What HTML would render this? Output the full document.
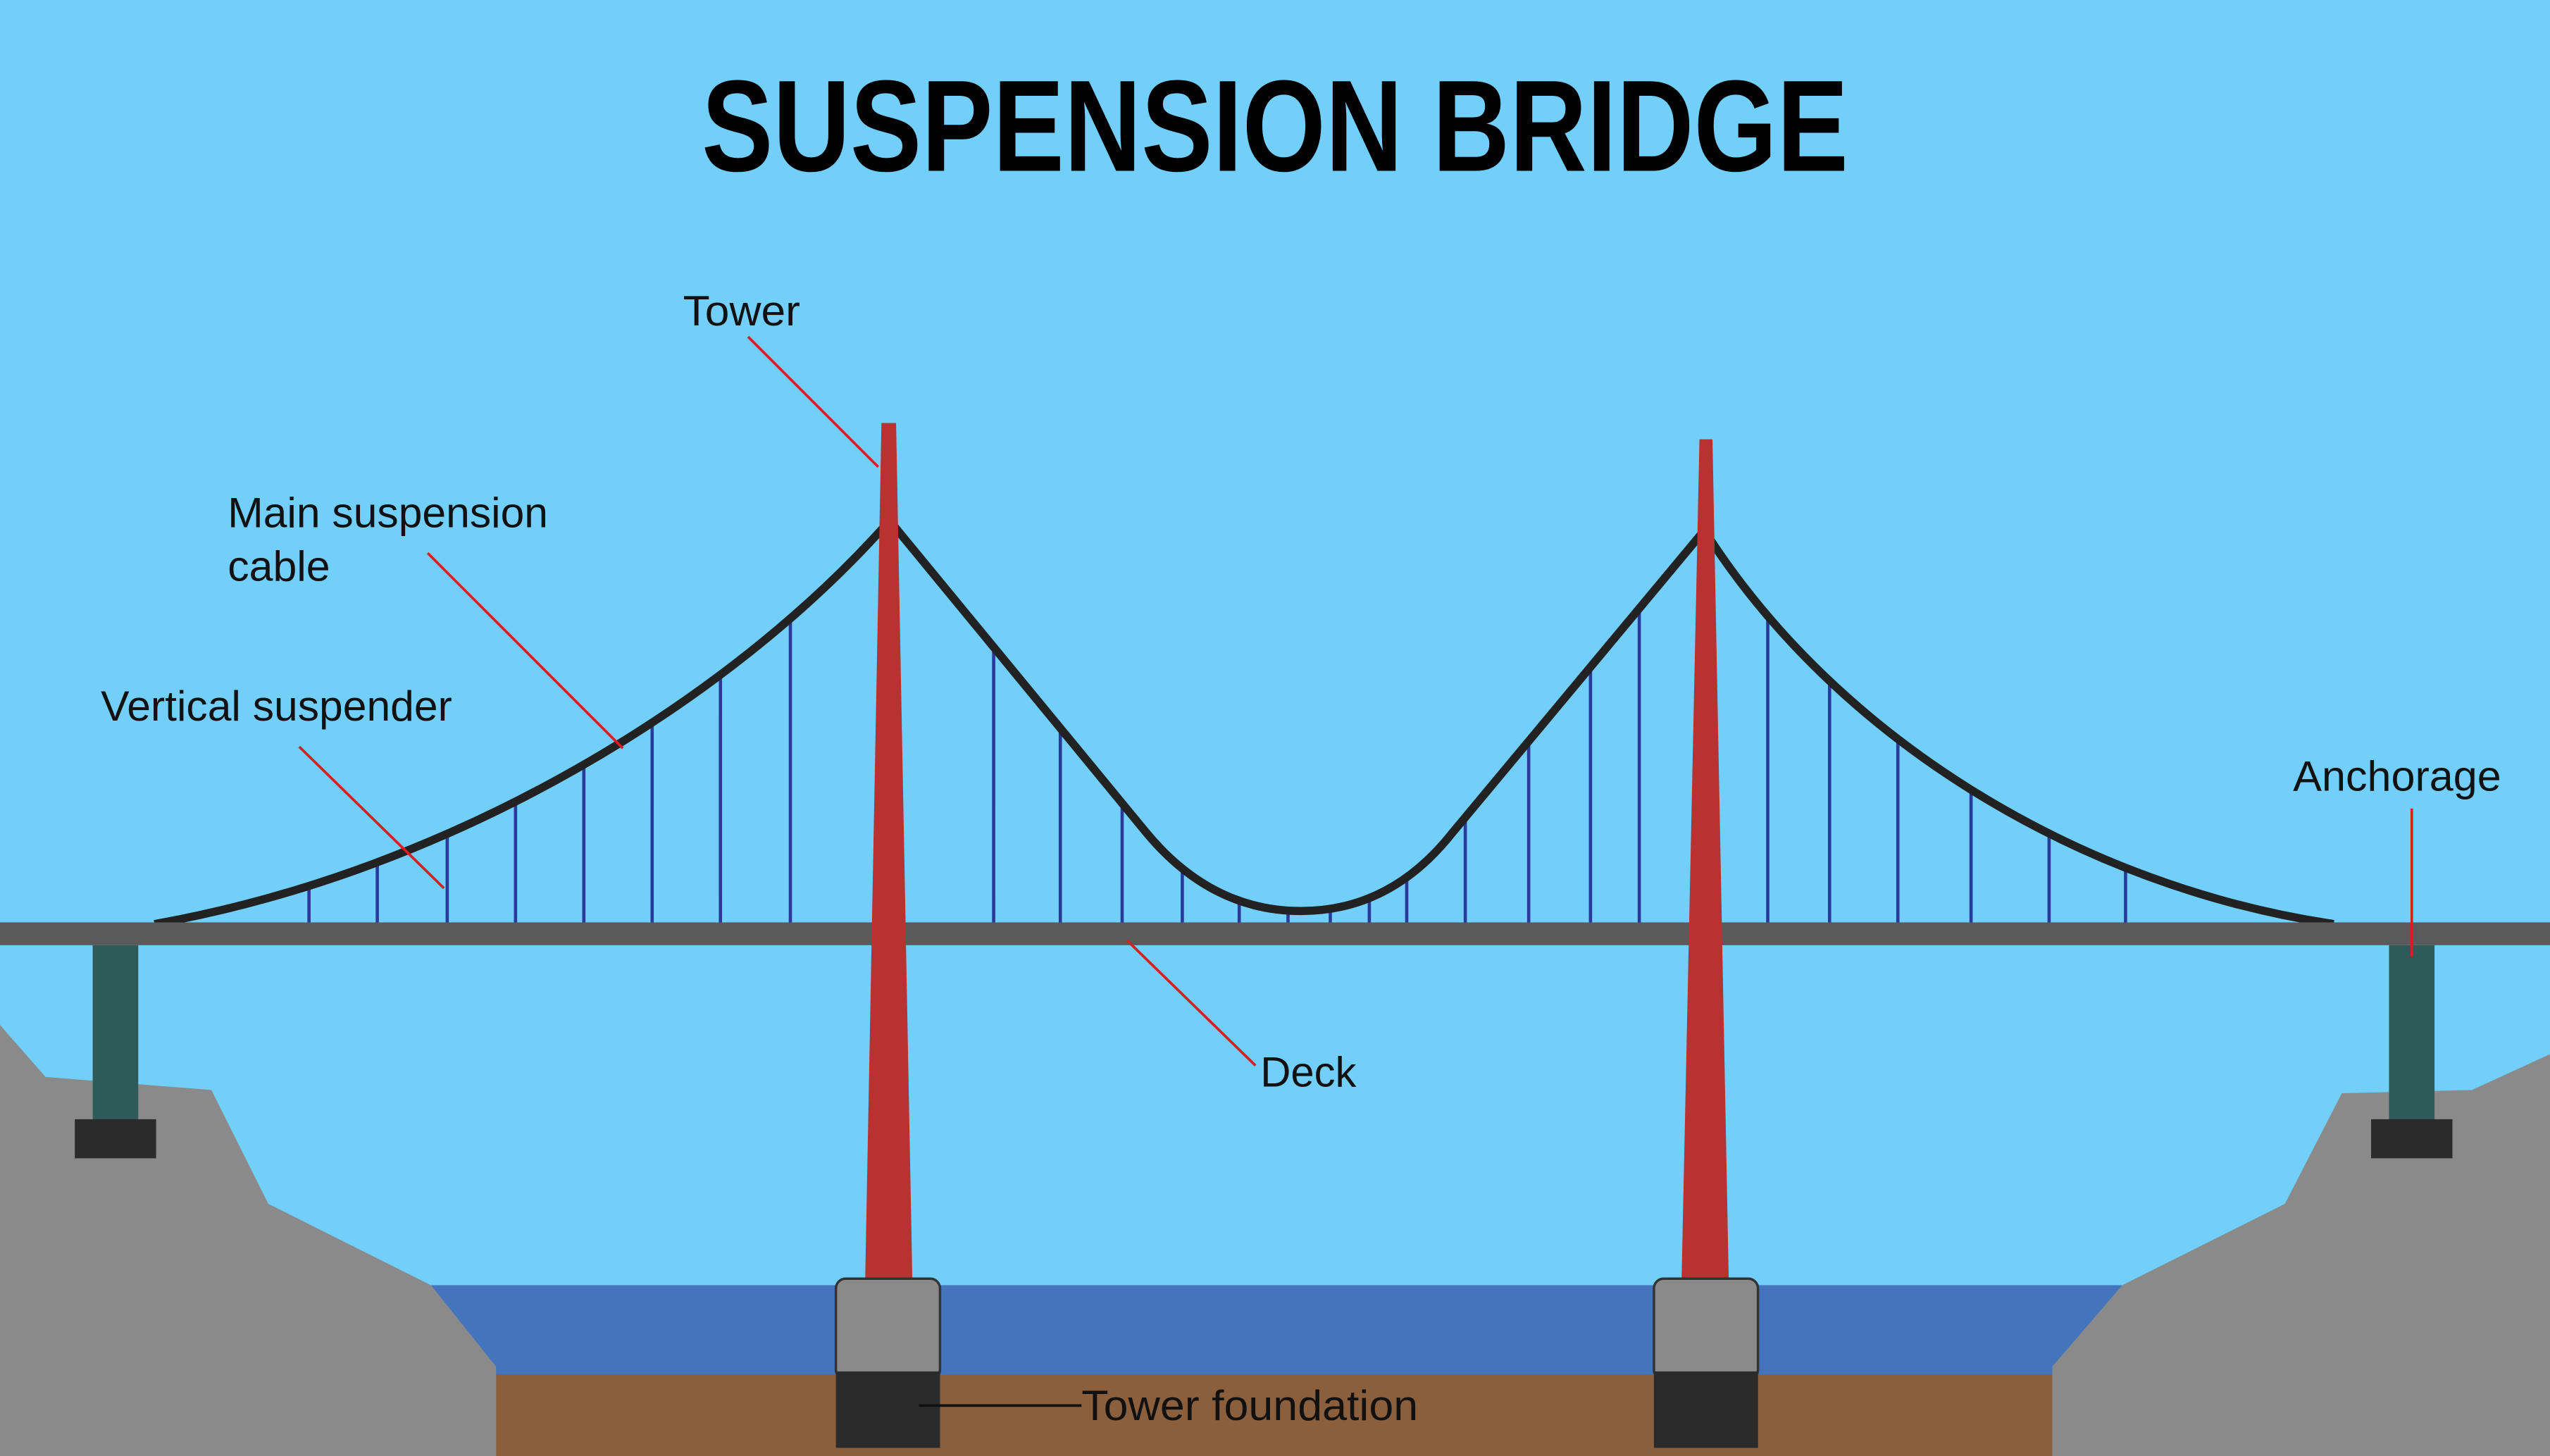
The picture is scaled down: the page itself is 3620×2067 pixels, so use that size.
<!DOCTYPE html>
<html><head><meta charset="utf-8"><style>
html,body{margin:0;padding:0;width:3620px;height:2067px;overflow:hidden;background:#72cffa}
svg{display:block}
text{font-family:"Liberation Sans",sans-serif;fill:#111}
</style></head><body>
<svg width="3620" height="2067" viewBox="0 0 1568 895" preserveAspectRatio="none" xmlns="http://www.w3.org/2000/svg">
<rect width="1568" height="895" fill="#72cffa"/>
<text x="784" y="105" text-anchor="middle" font-size="80" font-weight="bold" textLength="705" lengthAdjust="spacingAndGlyphs" style="fill:#000">SUSPENSION BRIDGE</text>
<defs>
<clipPath id="under">
<path d="M95,568 C280,535 450,430 547,320 L705,512 Q745,560 800,560 Q855,560 893,512 L1048,326 C1130,455 1280,545 1435,568 Z"/>
</clipPath>
</defs>
<rect x="265" y="790" width="1040" height="56" fill="#4475bc"/>
<rect x="305" y="845" width="957" height="50" fill="#8b5e3c"/>
<polygon points="0,630 28,662 130,670 165,740 265,790 305,840 305,895 0,895" fill="#8a8a8a"/>
<polygon points="1568,648 1520,670 1440,672 1405,740 1305,790 1262,840 1262,895 1568,895" fill="#8a8a8a"/>
<rect x="57" y="581" width="28" height="109" fill="#2f5a5a"/>
<rect x="46" y="688" width="50" height="24" fill="#2b2b2b"/>
<rect x="1469" y="581" width="28" height="109" fill="#2f5a5a"/>
<rect x="1458" y="688" width="50" height="24" fill="#2b2b2b"/>
<g clip-path="url(#under)" stroke="#2a3a9a" stroke-width="2">
<path d="M190,300V567M232,300V567M275,300V567M317,300V567M359,300V567M401,300V567M443,300V567M486,300V567M611,300V567M652,300V567M690,300V567M727,300V567M762,300V567M792,300V567M818,300V567M842,300V567M865,300V567M901,300V567M940,300V567M978,300V567M1008,300V567M1087,300V567M1125,300V567M1167,300V567M1212,300V567M1260,300V567M1307,300V567"/>
</g>
<path d="M95,568 C280,535 450,430 547,320 L705,512 Q745,560 800,560 Q855,560 893,512 L1048,326 C1130,455 1280,545 1435,568" fill="none" stroke="#222" stroke-width="5"/>
<rect x="0" y="567" width="1568" height="14" fill="#5a5a5a"/>
<polygon points="542,260 551,260 561,787 532,787" fill="#b83232"/>
<polygon points="1045,270 1053,270 1063,787 1034,787" fill="#b83232"/>
<rect x="514" y="786" width="64" height="62" rx="6" fill="#8a8a8a" stroke="#333" stroke-width="1.5"/>
<rect x="514" y="843" width="64" height="47" fill="#2b2b2b"/>
<rect x="1017" y="786" width="64" height="62" rx="6" fill="#8a8a8a" stroke="#333" stroke-width="1.5"/>
<rect x="1017" y="843" width="64" height="47" fill="#2b2b2b"/>
<g stroke="#d42020" stroke-width="1.6">
<line x1="460" y1="207" x2="540" y2="287"/>
<line x1="263" y1="340" x2="383" y2="460"/>
<line x1="184" y1="459" x2="273" y2="546"/>
<line x1="1483" y1="497" x2="1483" y2="588"/>
<line x1="693" y1="578" x2="772" y2="655"/>
</g>
<line x1="565" y1="864" x2="665" y2="864" stroke="#111" stroke-width="1.6"/>
<g font-size="26">
<text x="420" y="200" textLength="72" lengthAdjust="spacingAndGlyphs">Tower</text>
<text x="140" y="324" textLength="197" lengthAdjust="spacingAndGlyphs">Main suspension</text>
<text x="140" y="357" textLength="63" lengthAdjust="spacingAndGlyphs">cable</text>
<text x="62" y="443" textLength="216" lengthAdjust="spacingAndGlyphs">Vertical suspender</text>
<text x="1410" y="486" textLength="128" lengthAdjust="spacingAndGlyphs">Anchorage</text>
<text x="775" y="668" textLength="59" lengthAdjust="spacingAndGlyphs">Deck</text>
<text x="665" y="873" textLength="207" lengthAdjust="spacingAndGlyphs">Tower foundation</text>
</g>
</svg>
</body></html>
